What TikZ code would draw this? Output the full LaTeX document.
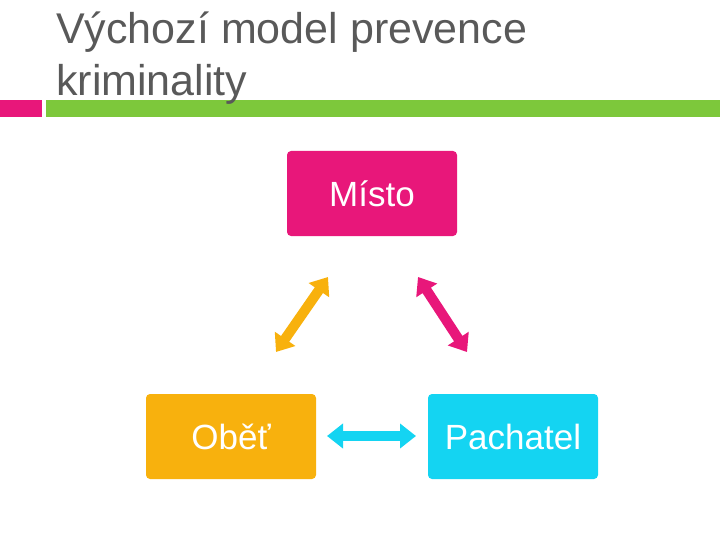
\documentclass[tikz,border=0pt]{standalone}
\usepackage{fontspec}
\setmainfont{Liberation Sans}
\usetikzlibrary{arrows.meta,positioning}
\definecolor{mpink}{HTML}{E8177A}
\definecolor{morange}{HTML}{F8B10D}
\definecolor{mcyan}{HTML}{14D4F2}
\definecolor{mgreen}{HTML}{7DC83B}
\definecolor{mgray}{HTML}{595959}
\tikzset{
  box/.style={rounded corners=4pt, minimum width=170pt, minimum height=85pt, inner sep=0pt, text=white, font=\fontsize{35}{40}\selectfont},
  link/.style={line width=10pt, {Triangle[length=16pt,width=24pt]}-{Triangle[length=16pt,width=24pt]}}
}
\begin{document}
\begin{tikzpicture}[x=1pt,y=-1pt]
  \useasboundingbox (0,0) rectangle (720,540);
  % title and bars
  \fill[mpink] (0,100) rectangle (42,117);
  \fill[mgreen] (46,100) rectangle (720,117);
  \node[anchor=north west, align=left, text=mgray, inner sep=0pt, font=\fontsize{43}{52}\selectfont] (title) at (56,12) {Výchozí model prevence\\kriminality};
  % boxes
  \node[box, fill=mpink] (misto) at (372,193.5) {Místo};
  \node[box, fill=morange] (obet) at (231,436.5) {Oběť};
  \node[box, fill=mcyan] (pachatel) at (513,436.5) {Pachatel};
  % arrows
  \coordinate (a1) at (328,277); \coordinate (a2) at (276,352);
  \coordinate (b1) at (418,277); \coordinate (b2) at (467,352);
  \coordinate (c1) at (327,436); \coordinate (c2) at (416,436);
  \draw[link, morange] (a1) -- (a2);
  \draw[link, mpink] (b1) -- (b2);
  \draw[link, mcyan] (c1) -- (c2);
\end{tikzpicture}
\end{document}
